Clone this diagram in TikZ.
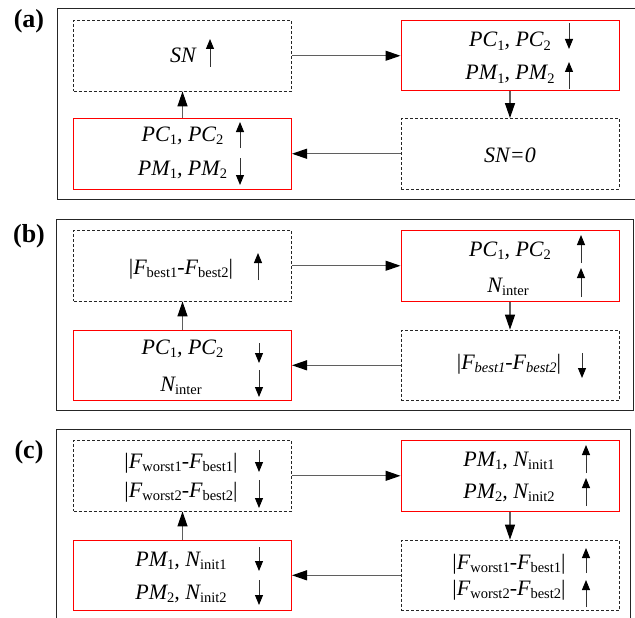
\documentclass[tikz,border=0pt]{standalone}
\usepackage{fontspec}
\setmainfont{Liberation Serif}
\usetikzlibrary{arrows.meta}
\definecolor{boxred}{RGB}{255,0,0}
\definecolor{connc}{RGB}{95,95,95}
\newcommand{\sbs}[1]{\raisebox{-0.17em}{\fontsize{14.5}{14.5}\selectfont\upshape #1}}
\newcommand{\sbi}[1]{\raisebox{-0.17em}{\fontsize{14.5}{14.5}\selectfont\itshape #1}}
\newcommand{\vb}{\textup{|}}
\begin{document}
\begin{tikzpicture}[x=1pt,y=-1pt,
  panel/.style={draw=black!85, line width=0.9pt, inner sep=0pt},
  redbox/.style={draw=boxred, line width=1pt, minimum width=218pt, minimum height=70.5pt, inner sep=0pt},
  dashbox/.style={draw=black!85, dash pattern=on 3pt off 2pt, line width=0.8pt, minimum width=218pt, minimum height=70.5pt, inner sep=0pt},
  conn/.style={draw=connc, line width=1.2pt, -{Triangle[length=15pt,width=10pt,color=black]}},
  inarr/.style={draw=black!80, line width=1pt, -{Triangle[length=10pt,width=8pt,color=black]}},
  txt/.style={font=\fontsize{22}{26}\selectfont\itshape, inner sep=0pt, anchor=base},
  lab/.style={font=\fontsize{26}{30}\selectfont\bfseries, inner sep=0pt}]
\useasboundingbox (0,0) rectangle (635,618);

% ---------- panel (a)
\node[panel, minimum width=580pt, minimum height=191pt] (pa) at (347,103.5) {};
\node[lab] (la) at (29,21) {(a)};
\node[dashbox] (a1) at (182.5,55.75) {};
\node[redbox]  (a2) at (510,55.75) {};
\node[dashbox] (a3) at (510,153.75) {};
\node[redbox]  (a4) at (182.5,153.75) {};
\draw[conn] (a1) -- (a2);
\draw[conn] (a2) -- (a3);
\draw[conn] (a3) -- (a4);
\draw[conn] (a4) -- (a1);
\node[txt] (a1t) at (183,63) {SN};
\draw[inarr] (210,67) -- (210,39);
\node[txt] (a2t1) at (510,47) {PC\sbs{1}, PC\sbs{2}};
\draw[inarr] (569,23) -- (569,49);
\node[txt] (a2t2) at (510,80) {PM\sbs{1}, PM\sbs{2}};
\draw[inarr] (569,89) -- (569,62);
\node[txt] (a3t) at (510,162) {SN=0};
\node[txt] (a4t1) at (182.5,141) {PC\sbs{1}, PC\sbs{2}};
\draw[inarr] (240,148) -- (240,122);
\node[txt] (a4t2) at (182.5,175) {PM\sbs{1}, PM\sbs{2}};
\draw[inarr] (240,158) -- (240,185);

% ---------- panel (b)
\node[panel, minimum width=576.5pt, minimum height=191pt] (pb) at (344.75,314.5) {};
\node[lab] (lb) at (29,236) {(b)};
\node[dashbox] (b1) at (182.5,265.75) {};
\node[redbox]  (b2) at (510,265.75) {};
\node[dashbox] (b3) at (510,365.3) {};
\node[redbox]  (b4) at (182.5,365.3) {};
\draw[conn] (b1) -- (b2);
\draw[conn] (b2) -- (b3);
\draw[conn] (b3) -- (b4);
\draw[conn] (b4) -- (b1);
\node[txt] (b1t) at (181,274) {\vb F\sbs{best1}\textup{-}F\sbs{best2}\vb};
\draw[inarr] (258,280) -- (258,253);
\node[txt] (b2t1) at (510,256) {PC\sbs{1}, PC\sbs{2}};
\draw[inarr] (581,263) -- (581,235);
\node[txt] (b2t2) at (508,292) {N\sbs{inter}};
\draw[inarr] (581,297) -- (581,268);
\node[txt] (b3t) at (509,369) {\vb F\sbi{best1}-F\sbi{best2}\vb};
\draw[inarr] (582,353) -- (582,378);
\node[txt] (b4t1) at (182.5,354) {PC\sbs{1}, PC\sbs{2}};
\draw[inarr] (259,343) -- (259,363);
\node[txt] (b4t2) at (181,391) {N\sbs{inter}};
\draw[inarr] (259,370) -- (259,397);

% ---------- panel (c)
\node[panel, minimum width=573.5pt, minimum height=196pt] (pc) at (343.25,527) {};
\node[lab] (lc) at (29,452) {(c)};
\node[dashbox] (c1) at (182.5,475.8) {};
\node[redbox]  (c2) at (510,475.8) {};
\node[dashbox] (c3) at (510,575.3) {};
\node[redbox]  (c4) at (182.5,575.3) {};
\draw[conn] (c1) -- (c2);
\draw[conn] (c2) -- (c3);
\draw[conn] (c3) -- (c4);
\draw[conn] (c4) -- (c1);
\node[txt] (c1t1) at (181,468) {\vb F\sbs{worst1}\textup{-}F\sbs{best1}\vb};
\draw[inarr] (259,450) -- (259,472);
\node[txt] (c1t2) at (181,497) {\vb F\sbs{worst2}\textup{-}F\sbs{best2}\vb};
\draw[inarr] (259,480) -- (259,508);
\node[txt] (c2t1) at (509,466) {PM\sbs{1}, N\sbs{init1}};
\draw[inarr] (586,473) -- (586,445);
\node[txt] (c2t2) at (509,498) {PM\sbs{2}, N\sbs{init2}};
\draw[inarr] (586,506) -- (586,478);
\node[txt] (c3t1) at (509,569) {\vb F\sbs{worst1}\textup{-}F\sbs{best1}\vb};
\draw[inarr] (586,573) -- (586,548);
\node[txt] (c3t2) at (509,595) {\vb F\sbs{worst2}\textup{-}F\sbs{best2}\vb};
\draw[inarr] (586,607) -- (586,580);
\node[txt] (c4t1) at (181,566) {PM\sbs{1}, N\sbs{init1}};
\draw[inarr] (259,547) -- (259,571);
\node[txt] (c4t2) at (181,599) {PM\sbs{2}, N\sbs{init2}};
\draw[inarr] (259,580) -- (259,605);
\end{tikzpicture}
\end{document}
